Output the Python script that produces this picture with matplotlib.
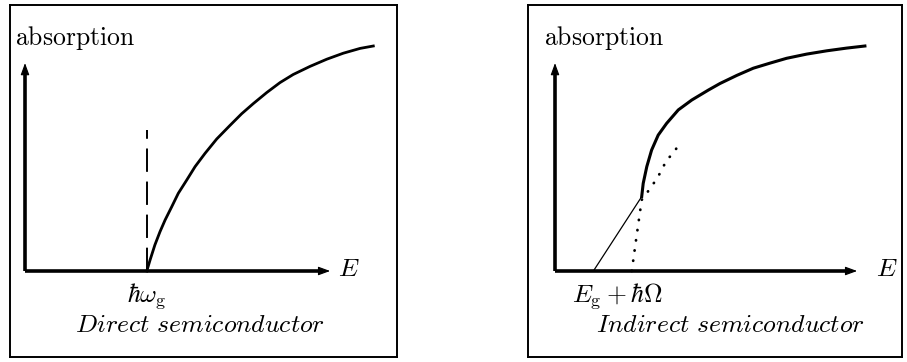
import matplotlib
matplotlib.use("Agg")
import matplotlib.pyplot as plt

plt.rcParams['mathtext.fontset'] = 'cm'
plt.rcParams['font.family'] = ['DejaVu Serif']

# ---- data (energy units, absorption units) ----
direct_E = [4.06, 4.17, 4.33, 4.50, 4.67, 4.89, 5.11, 5.39, 5.67, 6.00, 6.39,
            6.83, 7.22, 7.61, 8.06, 8.50, 8.94, 9.50, 10.06, 10.61, 11.17, 11.61]
direct_A = [0.00, 0.37, 0.87, 1.31, 1.70, 2.14, 2.59, 3.03, 3.48, 3.92, 4.40,
            4.85, 5.24, 5.58, 5.95, 6.28, 6.55, 6.82, 7.06, 7.26, 7.42, 7.50]
direct_gap = 4.06
direct_gap_top = 4.7

indirect_lin_E = [1.28, 2.89]
indirect_lin_A = [0.0, 2.48]
indirect_dot_E = [2.56, 2.67, 2.78, 2.89, 3.02, 3.17, 3.33, 3.53, 3.72, 3.94, 4.17]
indirect_dot_A = [0.00, 0.81, 1.59, 2.37, 2.53, 2.76, 2.98, 3.31, 3.70, 3.92, 4.28]
indirect_E = [2.89, 2.94, 3.06, 3.22, 3.44, 3.72, 4.11, 4.56, 5.11, 5.50, 6.06,
              6.61, 7.17, 7.72, 8.39, 9.06, 9.72, 10.33]
indirect_A = [2.48, 2.92, 3.48, 4.03, 4.53, 4.92, 5.37, 5.70, 6.03, 6.25, 6.52,
              6.76, 6.93, 7.09, 7.23, 7.34, 7.43, 7.50]

ylabel = r'$\mathrm{absorption}$'
xlabel = r'$E$'
direct_tick = r'$\hbar\omega_{\mathrm{g}}$'
indirect_tick = r'$E_{\mathrm{g}}+\hbar\Omega$'
direct_title = r'$Direct\ semiconductor$'
indirect_title = r'$Indirect\ semiconductor$'

W, H = 907, 362
fig = plt.figure(figsize=(W/100, H/100), dpi=100)

def make_ax(x0, x1, y0, y1, ox, oy):
    ax = fig.add_axes([x0/W, 1 - y1/H, (x1-x0)/W, (y1-y0)/H])
    ax.set_xlim((x0-ox)/30, (x1-ox)/30)
    ax.set_ylim((oy-y1)/30, (oy-y0)/30)
    ax.set_xticks([]); ax.set_yticks([])
    for s in ax.spines.values():
        s.set_linewidth(1.4)
    return ax

def axes_arrows(ax, xtip, ytip):
    ax.plot([0, xtip-0.25], [0, 0], color='k', lw=2.6, solid_capstyle='butt')
    ax.plot([0, 0], [0, ytip-0.25], color='k', lw=2.6, solid_capstyle='butt')
    for xy in [(xtip, 0), (0, ytip)]:
        start = (xy[0]-0.4, 0) if xy[1] == 0 else (0, xy[1]-0.4)
        ax.annotate('', xy=xy, xytext=start,
                    arrowprops=dict(arrowstyle='-|>,head_length=0.6,head_width=0.22',
                                    color='k', lw=0.8, shrinkA=0, shrinkB=0,
                                    mutation_scale=12))

fs = 18.5
# left panel
ax1 = make_ax(10, 397, 5, 357, 25, 271)
axes_arrows(ax1, 10.17, 6.93)
ax1.plot(direct_E, direct_A, color='k', lw=2.0, solid_joinstyle='round')
ax1.plot([direct_gap, direct_gap], [0, direct_gap_top], color='k', lw=1.4,
         linestyle=(0, (12, 5)))
ax1.text(-0.35, 7.75, ylabel, fontsize=fs, ha='left', va='center')
ax1.text(10.45, 0.1, xlabel, fontsize=fs, ha='left', va='center')
ax1.text(direct_gap, -0.85, direct_tick, fontsize=fs, ha='center', va='center')
ax1.text(5.83, -1.8, direct_title, fontsize=fs, ha='center', va='center')

# right panel
ax2 = make_ax(528, 902, 5, 357, 555, 271)
axes_arrows(ax2, 10.07, 6.93)
ax2.plot(indirect_lin_E, indirect_lin_A, color='k', lw=0.9)
ax2.plot(indirect_dot_E, indirect_dot_A, color='k', lw=2.0,
         linestyle=(0, (0.1, 3.6)), dash_capstyle='round')
ax2.plot(indirect_E, indirect_A, color='k', lw=2.2, solid_joinstyle='round')
ax2.text(-0.35, 7.75, ylabel, fontsize=fs, ha='left', va='center')
ax2.text(10.7, 0.1, xlabel, fontsize=fs, ha='left', va='center')
ax2.text(2.07, -0.85, indirect_tick, fontsize=fs, ha='center', va='center')
ax2.text(5.83, -1.8, indirect_title, fontsize=fs, ha='center', va='center')

fig.savefig('out.png', dpi=100)
